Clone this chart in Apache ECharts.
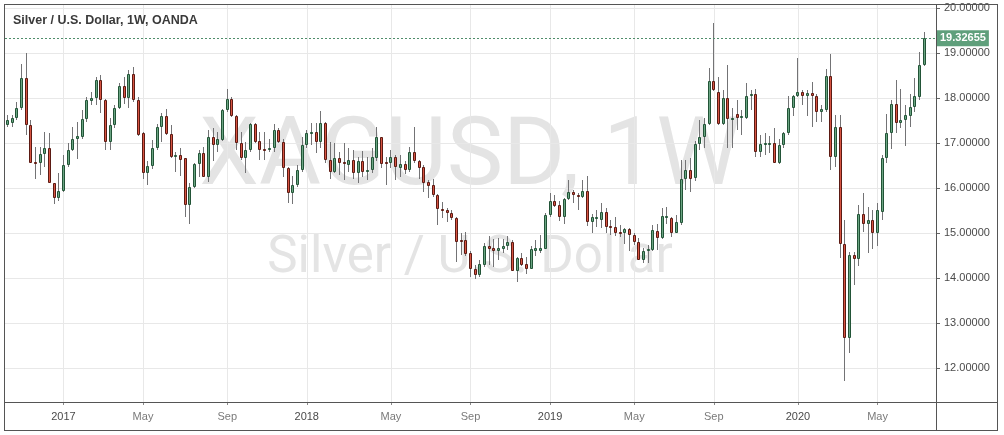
<!DOCTYPE html>
<html><head><meta charset="utf-8">
<script src="https://cdn.jsdelivr.net/npm/echarts@6/dist/echarts.min.js"></script>
<style>html,body{margin:0;padding:0;background:#fff}#c{width:1004px;height:435px}</style>
</head><body><div id="c"></div>
<script>
// ---- data (weekly OHLC, first bar = week of 2016-10-10) ----
const firstWeek = '2016-10-10';
const open = [
17.40,17.45,17.55,17.77,18.44,17.40,16.58,16.55,16.75,16.88,
16.10,15.77,15.94,16.51,16.84,17.10,17.14,17.53,17.94,17.99,
18.39,17.96,17.03,17.40,17.77,18.27,17.99,18.53,17.96,17.22,
16.34,16.49,16.88,17.35,17.60,17.20,16.70,16.73,16.66,15.62,
16.03,16.53,16.77,16.25,17.13,16.95,17.07,17.73,17.97,17.59,
16.99,16.66,16.84,17.42,17.04,16.87,16.84,16.88,17.30,17.03,
16.44,15.88,16.07,16.40,16.96,17.21,17.25,17.03,17.44,16.62,
16.36,16.66,16.57,16.51,16.62,16.34,16.59,16.37,16.39,16.66,
17.14,16.58,16.55,16.70,16.45,16.53,16.40,16.81,16.59,16.47,
16.14,16.07,15.84,15.54,15.51,15.44,15.34,14.85,14.84,14.55,
14.21,14.07,14.29,14.70,14.67,14.61,14.64,14.70,14.80,14.16,
14.44,14.30,14.21,14.60,14.60,14.64,15.40,15.70,15.62,15.36,
15.75,15.92,15.84,15.79,15.93,15.25,15.31,15.29,15.47,15.16,
15.13,15.02,14.99,15.09,14.96,14.81,14.40,14.61,14.62,15.04,
14.88,15.33,15.33,15.01,15.23,16.21,16.40,16.22,16.98,17.13,
17.42,18.38,18.14,17.42,17.99,17.51,17.64,17.55,17.55,18.04,
18.10,16.79,16.96,16.98,17.01,16.56,16.96,17.22,17.77,18.04,
18.14,18.04,18.12,18.04,17.70,17.73,18.49,16.68,17.35,14.76,
12.66,14.51,14.42,15.42,15.19,15.29,14.99,15.47,16.66,17.22,
17.87,17.44,17.51,17.60,17.79,18.03,18.73];
const close = [
17.52,17.56,17.77,18.44,17.40,16.56,16.55,16.76,16.88,16.10,
15.77,15.94,16.51,16.84,17.10,17.16,17.53,17.96,17.99,18.39,
17.96,17.03,17.40,17.77,18.27,17.99,18.53,17.96,17.18,16.34,
16.49,16.88,17.35,17.60,17.20,16.70,16.73,16.62,15.62,16.03,
16.53,16.77,16.25,17.13,16.95,17.08,17.73,17.97,17.59,16.99,
16.66,16.84,17.42,17.03,16.84,16.84,16.88,17.30,17.03,16.44,
15.88,16.07,16.40,16.96,17.23,17.25,17.03,17.44,16.62,16.36,
16.66,16.55,16.53,16.62,16.34,16.59,16.36,16.40,16.68,17.14,
16.53,16.53,16.70,16.47,16.53,16.40,16.81,16.59,16.45,16.12,
16.05,15.84,15.53,15.51,15.44,15.33,14.81,14.82,14.53,14.21,
14.07,14.30,14.70,14.64,14.61,14.66,14.71,14.80,14.16,14.44,
14.29,14.21,14.64,14.66,14.66,15.40,15.70,15.60,15.36,15.75,
15.92,15.84,15.79,15.93,15.25,15.36,15.35,15.47,15.14,15.13,
14.99,14.99,15.09,14.96,14.79,14.41,14.59,14.64,15.07,14.88,
15.38,15.38,15.01,15.25,16.21,16.40,16.21,16.98,17.13,17.42,
18.38,18.18,17.42,17.99,17.53,17.55,17.55,17.59,18.04,18.10,
16.79,16.98,16.99,17.01,16.56,16.96,17.22,17.77,18.04,18.14,
18.04,18.12,18.04,17.70,17.75,18.49,16.68,17.35,14.76,12.66,
14.51,14.42,15.42,15.20,15.29,14.99,15.50,16.66,17.22,17.87,
17.44,17.51,17.62,17.79,18.04,18.73,19.32655];
const low = [
17.36,17.35,17.51,17.73,17.18,16.55,16.19,16.29,16.47,16.10,
15.65,15.72,15.92,16.47,16.82,16.64,17.10,17.47,17.84,17.84,
17.66,16.84,16.84,17.33,17.75,17.87,17.77,17.92,17.16,16.21,
16.07,16.42,16.84,17.03,17.18,16.66,16.36,16.27,15.36,15.21,
16.00,16.25,16.24,16.14,16.61,16.79,17.05,17.70,17.57,16.84,
16.62,16.34,16.81,16.99,16.62,16.62,16.81,16.81,16.99,16.25,
15.66,15.64,16.03,16.36,16.88,16.96,16.77,16.88,16.55,16.19,
16.34,16.29,16.18,16.36,16.21,16.12,16.25,16.18,16.33,16.61,
16.44,16.07,16.44,16.18,16.25,16.31,16.36,16.55,16.21,15.92,
15.77,15.81,15.18,15.33,15.25,15.29,14.36,14.51,14.49,14.03,
13.97,14.03,14.25,14.29,14.25,14.40,14.55,14.62,14.16,13.92,
14.27,14.09,14.20,14.49,14.55,14.64,15.36,15.58,15.27,15.20,
15.73,15.66,15.51,15.77,15.16,14.99,15.14,15.10,14.99,14.96,
14.93,14.90,14.75,14.59,14.73,14.40,14.33,14.33,14.59,14.62,
14.86,15.21,14.92,14.99,15.18,15.96,15.92,16.15,16.84,16.88,
17.40,18.16,17.40,17.40,16.90,16.90,17.29,17.18,17.53,17.73,
16.70,16.70,16.73,16.77,16.55,16.53,16.88,17.18,17.59,18.03,
17.85,17.60,17.35,17.47,17.47,17.70,16.40,16.46,14.44,11.70,
12.33,13.84,14.27,15.03,14.55,14.64,14.70,15.29,16.55,16.86,
17.22,17.33,16.93,17.36,17.70,17.96,18.72];
const high = [
17.62,17.62,17.92,18.76,18.99,17.51,16.92,16.92,17.25,17.22,
16.12,16.33,16.73,16.99,17.35,17.47,17.73,18.03,18.14,18.47,
18.51,17.98,17.55,17.84,18.33,18.47,18.62,18.68,18.02,17.25,
16.59,17.07,17.42,17.67,17.75,17.40,16.81,16.90,16.66,16.10,
16.55,16.84,16.92,17.29,17.33,17.25,17.75,18.21,18.02,17.62,
17.25,17.03,17.45,17.45,17.25,17.25,17.10,17.42,17.33,17.10,
16.46,16.27,16.51,17.13,17.29,17.44,17.45,17.72,17.47,17.03,
16.99,16.81,16.99,16.88,16.84,16.70,16.83,16.68,16.88,17.36,
17.14,16.70,16.85,16.73,16.73,16.59,16.92,17.35,16.62,16.51,
16.18,16.21,15.86,15.68,15.55,15.51,15.36,15.01,15.03,14.59,
14.29,14.40,14.77,14.93,14.86,14.88,14.86,14.93,14.84,14.47,
14.55,14.47,14.70,14.84,14.96,15.44,15.88,15.84,15.70,15.77,
16.18,15.95,15.88,16.18,16.27,15.42,15.51,15.67,15.55,15.29,
15.36,15.18,15.10,15.12,14.99,14.88,14.66,14.73,15.18,15.20,
15.55,15.57,15.36,15.40,16.62,16.62,16.66,17.05,17.51,17.55,
18.66,19.66,18.47,18.18,18.73,17.77,17.96,17.73,18.34,18.18,
18.21,17.18,17.22,17.16,17.33,17.08,17.25,18.04,18.07,18.88,
18.18,18.18,18.36,18.10,17.84,18.64,18.98,17.62,17.62,15.29,
14.58,14.58,15.62,15.88,15.58,15.51,15.67,16.73,17.64,17.95,
18.40,18.19,17.84,18.09,18.44,19.03,19.47];
const emptySlots = 2;
const priceTicks = [12, 13, 14, 15, 16, 17, 18, 19, 20];
const tickDates = ['2017-01-02','2017-05-01','2017-09-04','2018-01-01','2018-05-07','2018-09-03',
                   '2018-12-31','2019-05-06','2019-09-02','2020-01-06','2020-05-04'];
const tickLabels = ['2017','May','Sep','2018','May','Sep','2019','May','Sep','2020','May'];
const titleText = 'Silver / U.S. Dollar, 1W, OANDA';
const watermarkMain = 'XAGUSD, 1W';
const watermarkSub = 'Silver / U.S. Dollar';

// ---- build ----
function weekList(start, n) {
  const p = start.split('-').map(Number);
  const t0 = Date.UTC(p[0], p[1] - 1, p[2]);
  const out = [];
  for (let i = 0; i < n; i++) out.push(new Date(t0 + i * 7 * 86400000).toISOString().slice(0, 10));
  return out;
}
const dates = weekList(firstWeek, open.length + emptySlots);
const labelMap = {};
tickDates.forEach((d, k) => { labelMap[d] = tickLabels[k]; });
const isTick = (idx, val) => labelMap.hasOwnProperty(val);
const candles = open.map((o, i) => [i, o, close[i], low[i], high[i]]);
const lastClose = close[close.length - 1];

const UP_FILL = '#6ba583', UP_LINE = '#225437', DN_FILL = '#d75442', DN_LINE = '#5b1a13', WICK = '#737375';

function renderCandle(params, api) {
  const i = api.value(0), o = api.value(1), c = api.value(2), l = api.value(3), h = api.value(4);
  const pO = api.coord([i, o]), pC = api.coord([i, c]);
  const pL = api.coord([i, l]), pH = api.coord([i, h]);
  const x = Math.floor(pO[0]) + 0.5;
  const up = c >= o;
  let top = Math.round(Math.min(pO[1], pC[1])) + 0.5;
  let bot = Math.round(Math.max(pO[1], pC[1])) - 0.5;
  if (bot - top < 1) bot = top + 1;
  return {
    type: 'group',
    children: [
      { type: 'line', shape: { x1: x, y1: Math.round(pH[1]), x2: x, y2: Math.round(pL[1]) },
        style: { stroke: WICK, lineWidth: 1 } },
      { type: 'rect', shape: { x: x - 1, y: top, width: 2, height: bot - top },
        style: { fill: up ? UP_FILL : DN_FILL, stroke: up ? UP_LINE : DN_LINE, lineWidth: 1 } }
    ]
  };
}

const chart = echarts.init(document.getElementById('c'), null, { renderer: 'canvas' });
const FRAME = '#555555';
chart.setOption({
  animation: false,
  backgroundColor: '#ffffff',
  grid: { left: 5, right: 68, top: 5, bottom: 33, outerBoundsMode: 'none' },
  xAxis: {
    type: 'category',
    data: dates,
    boundaryGap: true,
    axisLine: { show: false },
    axisTick: { show: true, alignWithLabel: true, interval: isTick, length: 3, lineStyle: { color: '#8a8a8a' } },
    axisLabel: {
      interval: isTick,
      margin: 9,
      formatter: (v) => {
        const t = labelMap[v] || '';
        return /^\d{4}$/.test(t) ? '{y|' + t + '}' : '{m|' + t + '}';
      },
      rich: {
        y: { fontFamily: 'Liberation Sans', fontSize: 11, color: '#4a4a4a' },
        m: { fontFamily: 'Liberation Sans', fontSize: 11, color: '#7a7a7a' }
      }
    },
    splitLine: { show: false }
  },
  yAxis: {
    type: 'value',
    position: 'right',
    min: 11.2444,
    max: 20.0667,
    axisLine: { show: false },
    axisTick: { show: true, length: 4, customValues: priceTicks, lineStyle: { color: '#666' } },
    axisLabel: {
      customValues: priceTicks,
      margin: 8,
      fontFamily: 'Liberation Sans',
      fontSize: 11,
      color: '#4a4a4a',
      formatter: (v) => Number(v).toFixed(5)
    },
    splitLine: { show: true, lineStyle: { color: '#e8e8e8', width: 1 } }
  },
  graphic: [
    { type: 'text', z: 0, x: 470, y: 160,
      style: { text: watermarkMain, fontFamily: 'Roboto', fontSize: 95, fill: '#e4e4e4', align: 'center', verticalAlign: 'middle' } },
    { type: 'text', z: 0, x: 470, y: 259,
      style: { text: watermarkSub, fontFamily: 'Roboto', fontSize: 51, fill: '#e4e4e4', align: 'center', verticalAlign: 'middle' } },
    { type: 'text', z: 50, x: 13, y: 21,
      style: { text: titleText, fontFamily: 'Liberation Sans', fontWeight: 'bold', fontSize: 12.5, fill: '#3a3a3a', align: 'left', verticalAlign: 'middle' } },
    { type: 'line', z: 50, shape: { x1: 4, y1: 4.5, x2: 998, y2: 4.5 }, style: { stroke: FRAME, lineWidth: 1 } },
    { type: 'line', z: 50, shape: { x1: 4, y1: 430.5, x2: 998, y2: 430.5 }, style: { stroke: FRAME, lineWidth: 1 } },
    { type: 'line', z: 50, shape: { x1: 4.5, y1: 4, x2: 4.5, y2: 431 }, style: { stroke: FRAME, lineWidth: 1 } },
    { type: 'line', z: 50, shape: { x1: 997.5, y1: 4, x2: 997.5, y2: 431 }, style: { stroke: FRAME, lineWidth: 1 } },
    { type: 'line', z: 50, shape: { x1: 936.5, y1: 4, x2: 936.5, y2: 431 }, style: { stroke: FRAME, lineWidth: 1 } },
    { type: 'line', z: 50, shape: { x1: 4, y1: 402.5, x2: 998, y2: 402.5 }, style: { stroke: FRAME, lineWidth: 1 } }
  ],
  series: [
    {
      type: 'line',
      z: 1,
      data: [],
      silent: true,
      markLine: {
        silent: true, symbol: 'none', z: 1, animation: false,
        label: { show: false },
        lineStyle: { color: '#e8e8e8', type: 'solid', width: 1 },
        data: tickDates.map(d => ({ xAxis: d }))
      }
    },
    {
      type: 'custom',
      z: 3,
      clip: true,
      renderItem: renderCandle,
      encode: { x: 0, y: [1, 2, 3, 4] },
      data: candles,
      markLine: {
        silent: true, symbol: 'none', z: 4, animation: false,
        lineStyle: { color: '#4f8d6a', type: [2, 2], width: 1 },
        label: {
          show: true, position: 'end', distance: 1,
          formatter: () => lastClose.toFixed(5),
          backgroundColor: '#5f9f7b', color: '#ffffff',
          fontFamily: 'Liberation Sans', fontWeight: 'bold', fontSize: 11,
          padding: [3, 3, 2, 3]
        },
        data: [{ yAxis: lastClose }]
      }
    }
  ]
});
</script></body></html>
